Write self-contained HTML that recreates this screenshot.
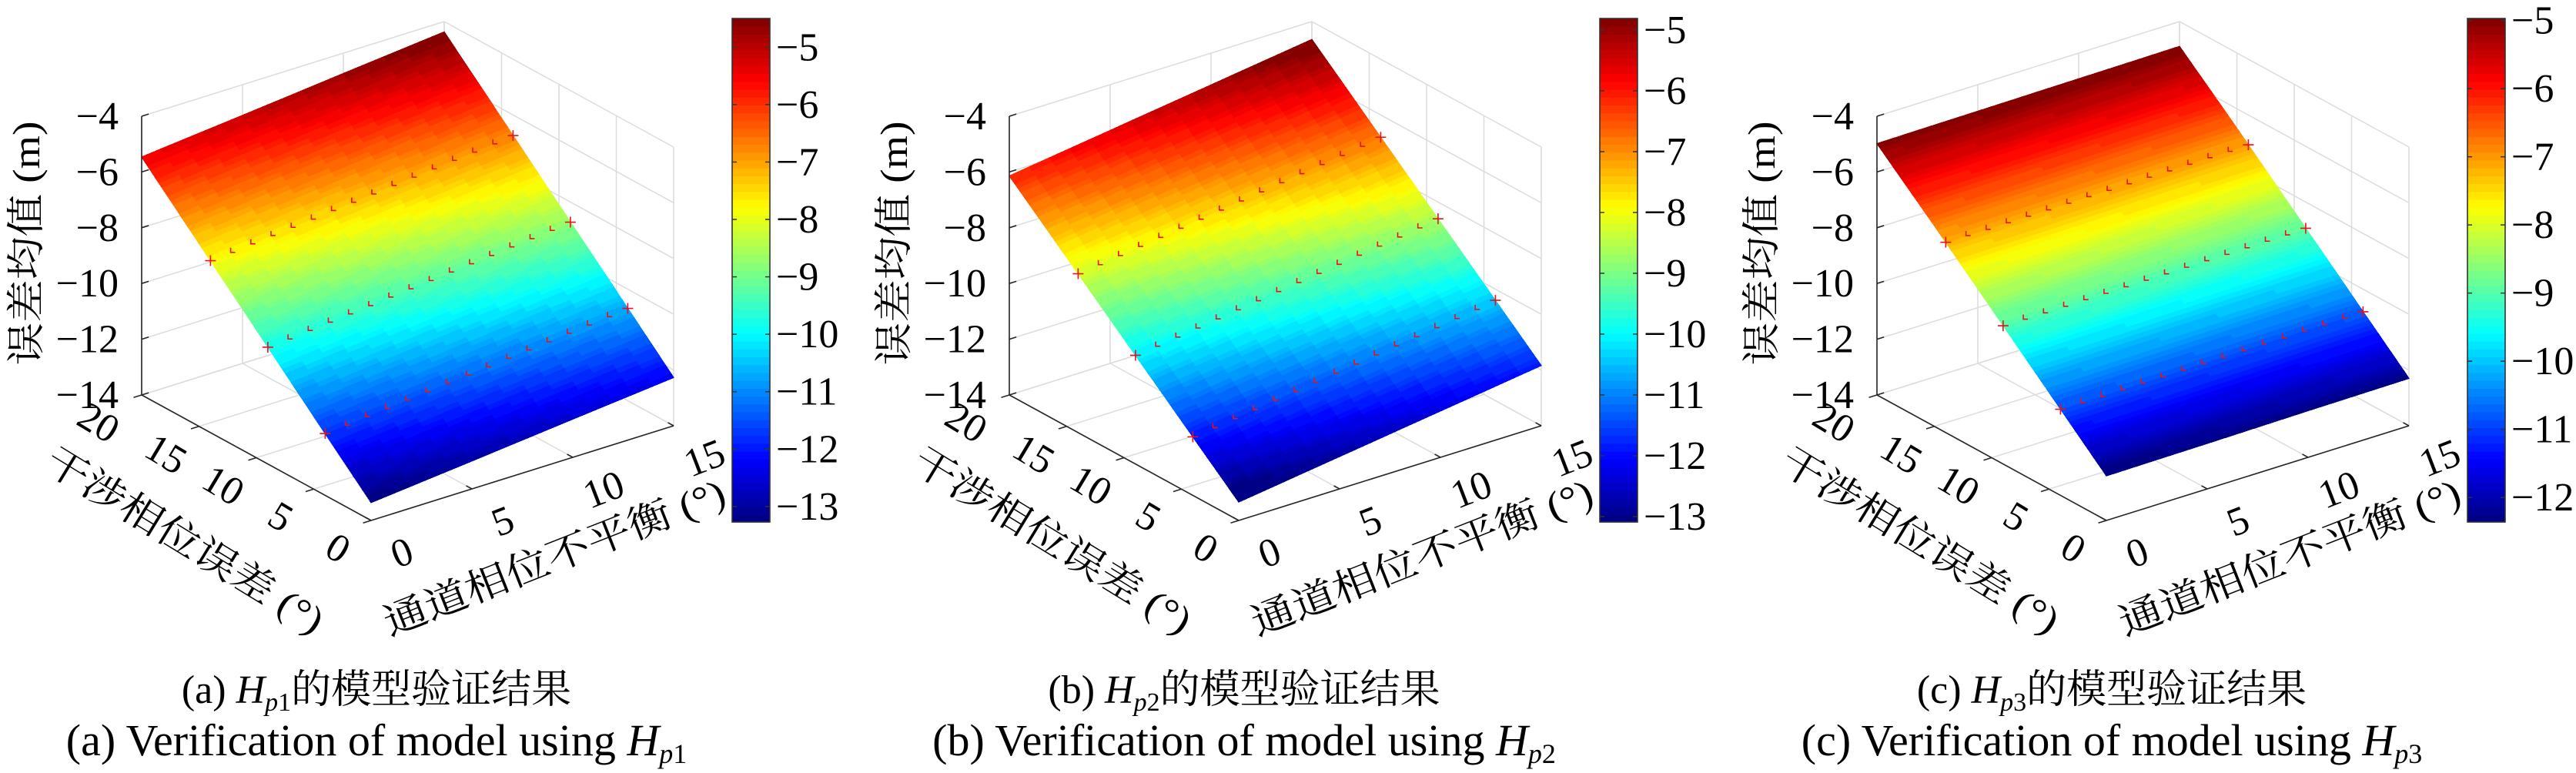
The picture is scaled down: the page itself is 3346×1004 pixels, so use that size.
<!DOCTYPE html>
<html><head><meta charset="utf-8">
<style>
html,body{margin:0;padding:0;background:#fff;}
svg{display:block;}
svg text{font-family:"Liberation Serif","Noto Serif CJK SC",serif;fill:#000;}
</style></head>
<body>
<svg id="fig" width="3346" height="1004" viewBox="0 0 3346 1004" xmlns="http://www.w3.org/2000/svg" font-family="'Liberation Serif', 'Noto Serif CJK SC', serif"></svg>
<script>
// ---- data ----
const gridX = [0, 5, 10, 15];
const gridY = [0, 5, 10, 15, 20];
const surf1 = [
  [-13.36, -13.00, -12.63, -12.27],
  [-11.39, -11.02, -10.66, -10.29],
  [-9.41, -9.05, -8.68, -8.32],
  [-7.44, -7.07, -6.71, -6.34],
  [-5.46, -5.10, -4.73, -4.37]
];
const surf2 = [
  [-13.34, -12.84, -12.34, -11.84],
  [-11.54, -11.04, -10.54, -10.04],
  [-9.74, -9.24, -8.74, -8.24],
  [-7.94, -7.44, -6.94, -6.44],
  [-6.14, -5.64, -5.14, -4.64]
];
const surf3 = [
  [-12.40, -12.37, -12.33, -12.30],
  [-10.53, -10.50, -10.46, -10.43],
  [-8.66, -8.63, -8.59, -8.56],
  [-6.80, -6.77, -6.73, -6.70],
  [-4.98, -4.95, -4.92, -4.89]
];
const markerX = [0,1,2,3,4,5,6,7,8,9,10,11,12,13,14,15];
const markerY = [14, 9, 4];
const p1Line14 = [-7.83,-7.76,-7.68,-7.61,-7.54,-7.47,-7.39,-7.32,-7.25,-7.17,-7.10,-7.03,-6.95,-6.88,-6.81,-6.74];
const p1Line9  = [-9.81,-9.74,-9.66,-9.59,-9.52,-9.45,-9.37,-9.30,-9.23,-9.15,-9.08,-9.01,-8.93,-8.86,-8.79,-8.72];
const p1Line4  = [-11.78,-11.71,-11.63,-11.56,-11.49,-11.42,-11.34,-11.27,-11.20,-11.12,-11.05,-10.98,-10.90,-10.83,-10.76,-10.69];
const p2Line14 = [-8.30,-8.20,-8.10,-8.00,-7.90,-7.80,-7.70,-7.60,-7.50,-7.40,-7.30,-7.20,-7.10,-7.00,-6.90,-6.80];
const p2Line9  = [-10.10,-10.00,-9.90,-9.80,-9.70,-9.60,-9.50,-9.40,-9.30,-9.20,-9.10,-9.00,-8.90,-8.80,-8.70,-8.60];
const p2Line4  = [-11.90,-11.80,-11.70,-11.60,-11.50,-11.40,-11.30,-11.20,-11.10,-11.00,-10.90,-10.80,-10.70,-10.60,-10.50,-10.40];
const p3Line14 = [-7.17,-7.16,-7.16,-7.15,-7.14,-7.14,-7.13,-7.12,-7.12,-7.11,-7.10,-7.10,-7.09,-7.08,-7.08,-7.07];
const p3Line9  = [-9.04,-9.03,-9.03,-9.02,-9.01,-9.01,-9.00,-8.99,-8.99,-8.98,-8.97,-8.97,-8.96,-8.95,-8.95,-8.94];
const p3Line4  = [-10.91,-10.90,-10.90,-10.89,-10.88,-10.88,-10.87,-10.86,-10.86,-10.85,-10.84,-10.84,-10.83,-10.82,-10.82,-10.81];
const clim1 = [-13.27, -4.50];
const clim2 = [-13.09, -4.81];
const clim3 = [-12.36, -4.97];
const zTicks = [-4, -6, -8, -10, -12, -14];
const yTicks = [0, 5, 10, 15, 20];
const xTicks = [0, 5, 10, 15];
const cbTicks1 = [-5, -6, -7, -8, -9, -10, -11, -12, -13];
const cbTicks2 = [-5, -6, -7, -8, -9, -10, -11, -12, -13];
const cbTicks3 = [-5, -6, -7, -8, -9, -10, -11, -12];
const panelLetters = ["a", "b", "c"];
const panelSubs = ["p1", "p2", "p3"];

const NS = "http://www.w3.org/2000/svg";
const svg = document.getElementById("fig");
const FF = "'Liberation Serif', 'Noto Serif CJK SC', serif";
function mk(tag, attrs, parent) {
  const e = document.createElementNS(NS, tag);
  for (const k in attrs) e.setAttribute(k, attrs[k]);
  if (tag === "text") e.setAttribute("font-family", FF);
  (parent || svg).appendChild(e);
  return e;
}
function jet(t) {
  t = Math.max(0, Math.min(1, t));
  t = (Math.min(63, Math.floor(t * 64)) + 0.5) / 64;
  const c = v => Math.round(255 * Math.max(0, Math.min(1, v)));
  return "rgb(" + c(1.5 - Math.abs(4 * t - 3)) + "," + c(1.5 - Math.abs(4 * t - 2)) + "," + c(1.5 - Math.abs(4 * t - 1)) + ")";
}
function bilinear(surf, x, y) {
  let i = Math.min(gridX.length - 2, Math.floor(x / 5));
  let j = Math.min(gridY.length - 2, Math.floor(y / 5));
  const fx = (x - gridX[i]) / 5, fy = (y - gridY[j]) / 5;
  return surf[j][i] * (1 - fx) * (1 - fy) + surf[j][i + 1] * fx * (1 - fy) +
         surf[j + 1][i] * (1 - fx) * fy + surf[j + 1][i + 1] * fx * fy;
}

function drawPanel(pi, surf, lines, clim, cbTicks) {
  const off = pi * 1127;
  const g = mk("g", {});
  
  
  const P = (x, y, z) => [off + 482 + 26.2 * x - 14.9 * y, 676 - 8.2 * x - 8.15 * y - 36.2 * (z + 14)];
  const line = (a, b, col, w, name) => {
    const l = mk("line", {x1: a[0], y1: a[1], x2: b[0], y2: b[1], stroke: col, "stroke-width": w}, g);
    
    
  };
  const GR = "#dcdcdc";
  for (const z of zTicks) {
    line(P(0, 20, z), P(15, 20, z), GR, 1.5, 'grid-back-z');
    line(P(15, 20, z), P(15, 0, z), GR, 1.5, 'grid-side-z');
  }
  for (const x of xTicks) {
    line(P(x, 20, -14), P(x, 20, -4), GR, 1.5, 'grid-back-x');
    line(P(x, 0, -14), P(x, 20, -14), GR, 1.5, 'grid-floor-x');
  }
  for (const y of yTicks) {
    line(P(15, y, -14), P(15, y, -4), GR, 1.5, 'grid-side-y');
    line(P(0, y, -14), P(15, y, -14), GR, 1.5, 'grid-floor-y');
  }
  // surface
  const sg = mk("g", {"shape-rendering": "crispEdges"}, g);
  
  
  const NY = 80;
  for (let j = 0; j < NY; j++) {
    const y0 = 20 * j / NY, y1 = 20 * (j + 1) / NY;
    for (let i = 0; i < 15; i++) {
      const x0 = i, x1 = i + 1;
      const z00 = bilinear(surf, x0, y0), z10 = bilinear(surf, x1, y0), z01 = bilinear(surf, x0, y1), z11 = bilinear(surf, x1, y1);
      const zm = (z00 + z10 + z01 + z11) / 4;
      const col = jet((zm - clim[0]) / (clim[1] - clim[0]));
      const pts = [P(x0, y0, z00), P(x1, y0, z10), P(x1, y1, z11), P(x0, y1, z01)].map(p => p[0].toFixed(1) + "," + p[1].toFixed(1)).join(" ");
      const q = mk("polygon", {points: pts, fill: col, stroke: col, "stroke-width": 1.2}, sg);
      
      
    }
  }
  // markers
  lines.forEach((vals, li) => {
    vals.forEach((z, k) => {
      const p = P(markerX[k], markerY[li], z);
      const full = (k === 0 || k === vals.length - 1);
      const d = full ? `M${p[0]-7},${p[1]}H${p[0]+7}M${p[0]},${p[1]-7}V${p[1]+7}` : `M${p[0]},${p[1]-6}V${p[1]}H${p[0]+6}`;
      const m = mk("path", {d: d, stroke: "#e8101a", "stroke-width": 1.6, fill: "none"}, g);
      
      
    });
  });
  // axes
  const AX = "#262626";
  line(P(0, 20, -14), P(0, 20, -4), AX, 1.6, 'z-axis-line');
  line(P(0, 20, -14), P(0, 0, -14), AX, 1.6, 'y-axis-line');
  line(P(0, 0, -14), P(15, 0, -14), AX, 1.6, 'x-axis-line');
  for (const z of zTicks) {
    line(P(0, 20, z), P(0.35, 20, z), AX, 1.6, 'z-tick');
    const p = P(0, 20, z);
    const t = mk("text", {x: p[0] - 30, y: p[1] + 17, "text-anchor": "end", "font-size": 52}, g);
    
    
    t.textContent = "\u2212" + Math.abs(z);
  }
  for (const y of yTicks) {
    line(P(0, y, -14), P(-0.4, y, -14), AX, 1.6, 'y-tick');
    const p0 = P(0, y, -14);
    const cx = p0[0] - 43 + (y === 20 ? -13 : 0), cy = p0[1] + 36;
    const t = mk("text", {x: 0, y: 0, "text-anchor": "middle", "font-size": 52, transform: `translate(${cx},${cy}) rotate(31) translate(0,17)`}, g);
    
    
    t.textContent = String(y);
  }
  for (const x of xTicks) {
    line(P(x, 0, -14), P(x, 0.5, -14), AX, 1.6, 'x-tick');
    const p0 = P(x, 0, -14);
    const cx = p0[0] + 40, cy = p0[1] + 42;
    const t = mk("text", {x: 0, y: 0, "text-anchor": "middle", "font-size": 52, transform: `translate(${cx},${cy}) rotate(-21) translate(0,17)`}, g);
    
    
    t.textContent = String(x);
  }
  let t = mk("text", {x: 0, y: 0, "text-anchor": "middle", "font-size": 50, textLength: 317, lengthAdjust: "spacingAndGlyphs", transform: `translate(${off + 34},316) rotate(-90) translate(0,17)`}, g);
  
  
  t.textContent = "误差均值 (m)";
  t = mk("text", {x: 0, y: 0, "text-anchor": "middle", "font-size": 50, textLength: 414, lengthAdjust: "spacingAndGlyphs", transform: `translate(${off + 240},702) rotate(31.5) translate(0,17)`}, g);
  
  
  t.textContent = "干涉相位误差 (°)";
  t = mk("text", {x: 0, y: 0, "text-anchor": "middle", "font-size": 50, textLength: 472, lengthAdjust: "spacingAndGlyphs", transform: `translate(${off + 720},724) rotate(-21.5) translate(0,17)`}, g);
  
  
  t.textContent = "通道相位不平衡 (°)";
  // colorbar
  const cbx = off + 951, cbw = 49, cbt = 24, cbb = 678;
  const cg = mk("g", {}, g);
  
  
  for (let k = 0; k < 64; k++) {
    const y1 = cbb - (cbb - cbt) * (k + 1) / 64, y0 = cbb - (cbb - cbt) * k / 64;
    const col = jet((k + 0.5) / 64);
    const r = mk("rect", {x: cbx, y: y1, width: cbw, height: y0 - y1 + 0.6, fill: col}, cg);
    
    
  }
  const border = mk("rect", {x: cbx, y: cbt, width: cbw, height: cbb - cbt, fill: "none", stroke: "#333", "stroke-width": 1.6}, cg);
  
  
  for (const v of cbTicks) {
    const yy = cbb - (v - clim[0]) / (clim[1] - clim[0]) * (cbb - cbt);
    line([cbx + cbw - 6, yy], [cbx + cbw, yy], "#333", 1.5, 'colorbar-tick');
    line([cbx, yy], [cbx + 6, yy], "#333", 1.5, 'colorbar-tick');
    const tt = mk("text", {x: cbx + cbw + 8, y: yy + 17, "font-size": 52}, cg);
    
    
    tt.textContent = "\u2212" + Math.abs(v);
  }
  // captions
  const cx = off + 489;
  const c1 = mk("text", {x: cx, y: 913, "text-anchor": "middle", "font-size": 52}, g);
  
  
  c1.innerHTML = `(${panelLetters[pi]}) <tspan font-style="italic">H</tspan><tspan font-size="34" dy="10" font-style="italic">p</tspan><tspan font-size="34">${panelSubs[pi].slice(1)}</tspan><tspan dy="-10">的模型验证结果</tspan>`;
  const c2 = mk("text", {x: cx, y: 981, "text-anchor": "middle", "font-size": 58}, g);
  
  
  c2.innerHTML = `(${panelLetters[pi]}) Verification of model using <tspan font-style="italic">H</tspan><tspan font-size="36" dy="10" font-style="italic">p</tspan><tspan font-size="36">${panelSubs[pi].slice(1)}</tspan>`;
}
drawPanel(0, surf1, [p1Line14, p1Line9, p1Line4], clim1, cbTicks1);
drawPanel(1, surf2, [p2Line14, p2Line9, p2Line4], clim2, cbTicks2);
drawPanel(2, surf3, [p3Line14, p3Line9, p3Line4], clim3, cbTicks3);
</script>
</body></html>
